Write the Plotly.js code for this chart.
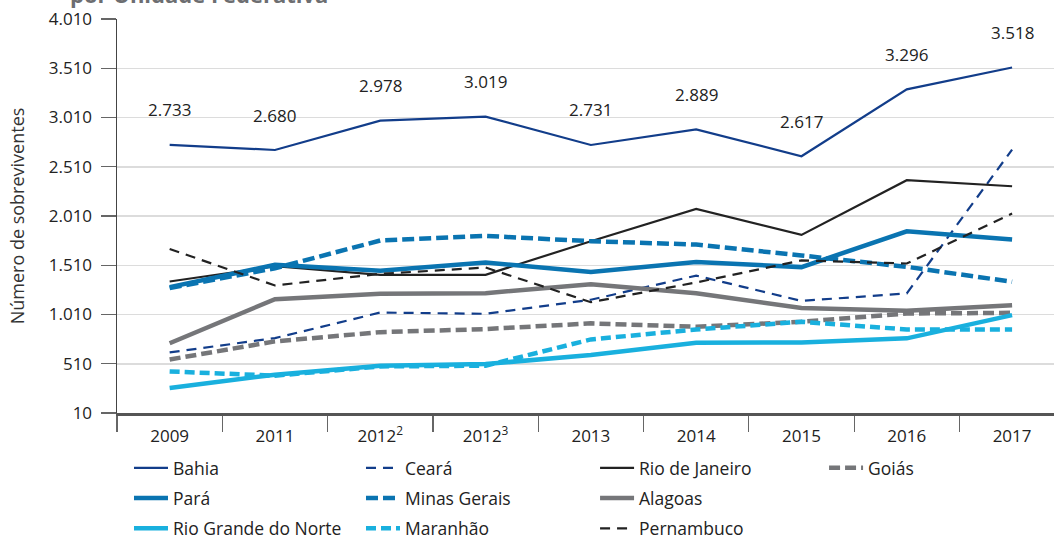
<!DOCTYPE html>
<html>
<head>
<meta charset="utf-8">
<script src="https://cdn.plot.ly/plotly-3.0.1.min.js"></script>
<style>html,body{margin:0;padding:0;background:#fff;}#chart{width:1054px;height:536px;}</style>
</head>
<body>
<div id="chart"></div>
<script>
const categories = ['2009', '2011', '2012<sup>2</sup>', '2012<sup>3</sup>', '2013', '2014', '2015', '2016', '2017'];
const yTickVals = [10, 510, 1010, 1510, 2010, 2510, 3010, 3510, 4010];

const bahia = [2733, 2680, 2978, 3019, 2731, 2889, 2617, 3296, 3518];
const ceara = [625, 770, 1030, 1017, 1160, 1405, 1148, 1224, 2684];
const rioDeJaneiro = [1345, 1500, 1413, 1413, 1754, 2081, 1818, 2373, 2312];
const goias = [553, 737, 831, 862, 920, 885, 936, 1020, 1027];
const para = [1288, 1514, 1453, 1538, 1441, 1542, 1491, 1855, 1772];
const minasGerais = [1278, 1480, 1761, 1808, 1754, 1720, 1609, 1494, 1342];
const alagoas = [718, 1166, 1220, 1227, 1318, 1225, 1077, 1047, 1105];
const rioGrandeDoNorte = [263, 399, 490, 507, 599, 724, 727, 768, 1004];
const maranhao = [432, 389, 483, 490, 757, 858, 936, 858, 858];
const pernambuco = [1675, 1305, 1423, 1487, 1135, 1335, 1559, 1528, 2035];

const NAVY = '#123d8a', BLUE = '#0a74b1', LIGHT = '#19b0de', GRAY = '#757679', BLACK = '#222222';
const FONT = 'Open Sans, Noto Sans, sans-serif';

function fmt(v) { return String(v).replace(/\B(?=(\d{3})+(?!\d))/g, '.'); }

function tr(name, y, color, width, dash, legend) {
  return { type: 'scatter', mode: 'lines', name: name, x: categories, y: y, legendgroup: name,
    line: { color: color, width: width, dash: dash }, legend: legend, hoverinfo: 'skip' };
}

const data = [
  tr('Bahia', bahia, NAVY, 2.2, 'solid', 'legend'),
  tr('Ceará', ceara, NAVY, 2.2, '10px,7px', 'legend2'),
  tr('Rio de Janeiro', rioDeJaneiro, BLACK, 2.2, 'solid', 'legend3'),
  tr('Goiás', goias, GRAY, 4.5, '11px,5px', 'legend4'),
  tr('Pará', para, BLUE, 4.5, 'solid', 'legend'),
  tr('Minas Gerais', minasGerais, BLUE, 4.5, '12px,5px', 'legend2'),
  tr('Alagoas', alagoas, GRAY, 4.5, 'solid', 'legend3'),
  tr('Rio Grande do Norte', rioGrandeDoNorte, LIGHT, 4.5, 'solid', 'legend'),
  tr('Maranhão', maranhao, LIGHT, 4.5, '10px,5px', 'legend2'),
  tr('Pernambuco', pernambuco, BLACK, 2.2, '10px,7px', 'legend3')
];

const annotations = bahia.map((v, i) => ({
  x: i, y: v, xref: 'x', yref: 'y', text: fmt(v), showarrow: false,
  yshift: 35, font: { family: FONT, size: 17, color: '#222' }
}));
annotations.push({
  xref: 'paper', yref: 'paper', x: -0.052, y: 1.0203, xanchor: 'left', yanchor: 'bottom',
  text: '<b>por Unidade Federativa</b>', showarrow: false,
  font: { family: FONT, size: 22, color: '#6d6e71' }
});

function leg(x) {
  return { orientation: 'v', x: x, xanchor: 'left', y: -0.0939, yanchor: 'top',
    itemwidth: 34, bgcolor: 'rgba(0,0,0,0)', traceorder: 'grouped',
    font: { family: FONT, size: 17.5, color: '#222' }, tracegroupgap: 4.5, itemclick: false };
}

const layout = {
  width: 1054, height: 536,
  margin: { l: 117, r: 0, t: 19, b: 123, pad: 0, autoexpand: false },
  paper_bgcolor: '#fff', plot_bgcolor: '#fff',
  font: { family: FONT, size: 17, color: '#222' },
  showlegend: true,
  xaxis: {
    type: 'category', range: [-0.5, 8.398], showgrid: false, zeroline: false,
    showline: true, linecolor: '#555', linewidth: 2.5,
    ticks: 'outside', tickson: 'boundaries', ticklen: 16, tickcolor: '#666', tickwidth: 1.2,
    ticklabelstandoff: 6,
    tickfont: { family: FONT, size: 17, color: '#222' }, fixedrange: true
  },
  yaxis: {
    range: [10, 4010], tickvals: yTickVals, ticktext: yTickVals.map(fmt),
    showgrid: true, gridcolor: '#dcdcdc', gridwidth: 1.5, zeroline: false,
    showline: true, linecolor: '#444', linewidth: 1.5,
    ticks: 'outside', ticklen: 15, tickcolor: '#666', tickwidth: 1.2,
    ticklabelstandoff: 5,
    tickfont: { family: FONT, size: 17, color: '#222' },
    title: { text: 'Número de sobreviventes', font: { family: FONT, size: 18, color: '#333' }, standoff: 19 },
    fixedrange: true
  },
  legend: leg(0.0128),
  legend2: leg(0.2604),
  legend3: leg(0.5102),
  legend4: leg(0.7546),
  annotations: annotations
};

Plotly.newPlot('chart', data, layout, { displayModeBar: false, staticPlot: true });
</script>
</body>
</html>
